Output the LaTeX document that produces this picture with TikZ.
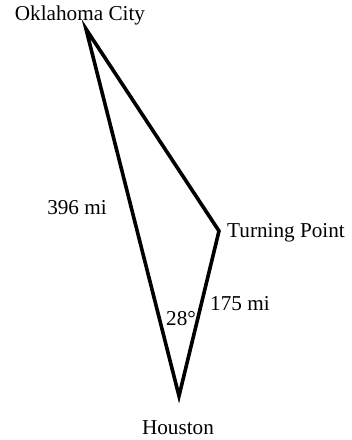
\documentclass[tikz,border=0pt]{standalone}
\usepackage{fontspec}
\setmainfont{Liberation Serif}
\usetikzlibrary{positioning}
\tikzset{
    city/.style={inner sep=0pt, font=\fontsize{21.2}{25}\selectfont},
    distlabel/.style={inner sep=0pt, font=\fontsize{21.2}{25}\selectfont},
    route/.style={line width=3.6pt, draw=black, line join=miter},
}

\begin{document}
\begin{tikzpicture}[x=1pt, y=-1pt]
    \useasboundingbox (0,0) rectangle (352,440);
    \coordinate (okc) at (86,29);
    \coordinate (turn) at (219,231);
    \coordinate (hou) at (179,396);

    \node[city] (okclabel) at (80,15) {Oklahoma City};
    \node[city, anchor=west] (turnlabel) at (227,233) {Turning Point};
    \node[city] (houlabel) at (178,428) {Houston};
    \node[distlabel] (longleg) at (77,208) {396 mi};
    \node[distlabel, anchor=west] (shortleg) at (210,304) {175 mi};
    \node[distlabel] (angle) at (181,319) {28\textdegree};

    \draw[route] (okc) -- (turn) -- (hou) -- cycle;
\end{tikzpicture}
\end{document}
